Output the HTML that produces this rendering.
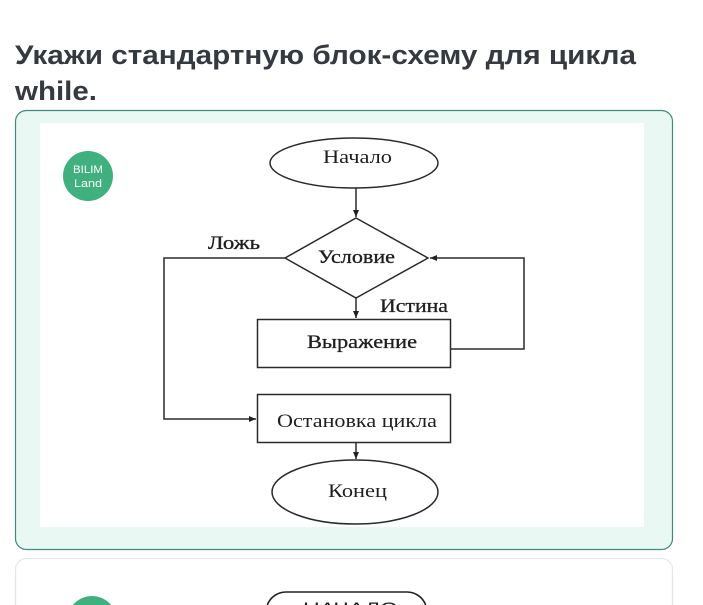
<!DOCTYPE html>
<html><head><meta charset="utf-8"><style>
html,body{margin:0;padding:0;background:#fff;width:703px;height:605px;overflow:hidden}
svg{display:block}
</style></head><body>
<svg width="703" height="605" viewBox="0 0 703 605" xmlns="http://www.w3.org/2000/svg">
<defs>
<marker id="ah" markerWidth="8" markerHeight="8" refX="7" refY="4" orient="auto" markerUnits="userSpaceOnUse">
<path d="M0,1 L7,4 L0,7 Z" fill="#222"/>
</marker>
<clipPath id="pg"><rect x="0" y="0" width="703" height="605"/></clipPath>
</defs>
<rect width="703" height="605" fill="#fff"/>
<!-- Title -->
<text x="15" y="64" font-family="Liberation Sans, sans-serif" font-weight="bold" font-size="27" fill="#343a40" textLength="621" lengthAdjust="spacingAndGlyphs">Укажи стандартную блок-схему для цикла</text>
<text x="15" y="100" font-family="Liberation Sans, sans-serif" font-weight="bold" font-size="27" fill="#343a40" textLength="82" lengthAdjust="spacingAndGlyphs">while.</text>

<!-- Card 1 -->
<rect x="15.5" y="110.5" width="657" height="439" rx="11" fill="#eaf8f3" stroke="#3f8a7c" stroke-width="1.2"/>
<rect x="40" y="123" width="604" height="404" fill="#fff"/>

<!-- Logo -->
<circle cx="88" cy="176" r="25" fill="#41b07f"/>
<text x="88" y="173" text-anchor="middle" font-family="Liberation Sans, sans-serif" font-size="11" fill="#fff" textLength="30" lengthAdjust="spacingAndGlyphs">BILIM</text>
<text x="88" y="187" text-anchor="middle" font-family="Liberation Sans, sans-serif" font-size="11" fill="#fff" textLength="28" lengthAdjust="spacingAndGlyphs">Land</text>

<!-- Flowchart -->
<g fill="none" stroke="#2a2a2a" stroke-width="1.5">
<ellipse cx="354" cy="163" rx="84" ry="25" fill="#fff"/>
<polygon points="356,218 428,258 356,298 285,258" fill="#fff"/>
<rect x="257.5" y="319.5" width="193" height="48" fill="#fff"/>
<rect x="257.5" y="394.5" width="193" height="48" fill="#fff"/>
<ellipse cx="355" cy="492" rx="83" ry="32" fill="#fff"/>
<line x1="356" y1="188" x2="356" y2="217" marker-end="url(#ah)"/>
<line x1="356" y1="298" x2="356" y2="318" marker-end="url(#ah)"/>
<line x1="356" y1="443" x2="356" y2="459" marker-end="url(#ah)"/>
<polyline points="285,258 164,258 164,419 256,419" marker-end="url(#ah)"/>
<polyline points="451,349 524,349 524,258 430,258" marker-end="url(#ah)"/>
</g>
<g font-family="Liberation Serif, serif" fill="#1e1e1e" font-size="19">
<text x="323" y="163" textLength="69" lengthAdjust="spacingAndGlyphs">Начало</text>
<text x="318" y="263" textLength="77" lengthAdjust="spacingAndGlyphs" stroke="#1e1e1e" stroke-width="0.35">Условие</text>
<text x="208" y="249" textLength="52" lengthAdjust="spacingAndGlyphs" stroke="#1e1e1e" stroke-width="0.35">Ложь</text>
<text x="380" y="312" textLength="68" lengthAdjust="spacingAndGlyphs" stroke="#1e1e1e" stroke-width="0.3">Истина</text>
<text x="307" y="348" textLength="110" lengthAdjust="spacingAndGlyphs" stroke="#1e1e1e" stroke-width="0.3">Выражение</text>
<text x="277" y="427" textLength="160" lengthAdjust="spacingAndGlyphs">Остановка цикла</text>
<text x="328" y="497" textLength="59" lengthAdjust="spacingAndGlyphs">Конец</text>
</g>

<!-- Card 2 (partial, cut at bottom edge) -->
<path d="M15.5,605 V569.5 A11,11 0 0 1 26.5,558.5 H661.5 A11,11 0 0 1 672.5,569.5 V605" fill="#fff" stroke="#e6e6e6" stroke-width="1.2"/>
<path d="M72.8,605 A25,25 0 0 1 111.2,605 Z" fill="#41b07f"/>
<path d="M267.3,605 A20,20 0 0 1 286,592 H407 A20,20 0 0 1 425.7,605" fill="#fff" stroke="#222" stroke-width="1.6"/>
<g clip-path="url(#pg)">
<text x="303" y="614" font-family="Liberation Sans, sans-serif" font-size="17" fill="#222" textLength="95" lengthAdjust="spacingAndGlyphs">НАЧАЛО</text>
</g>
</svg>
</body></html>
